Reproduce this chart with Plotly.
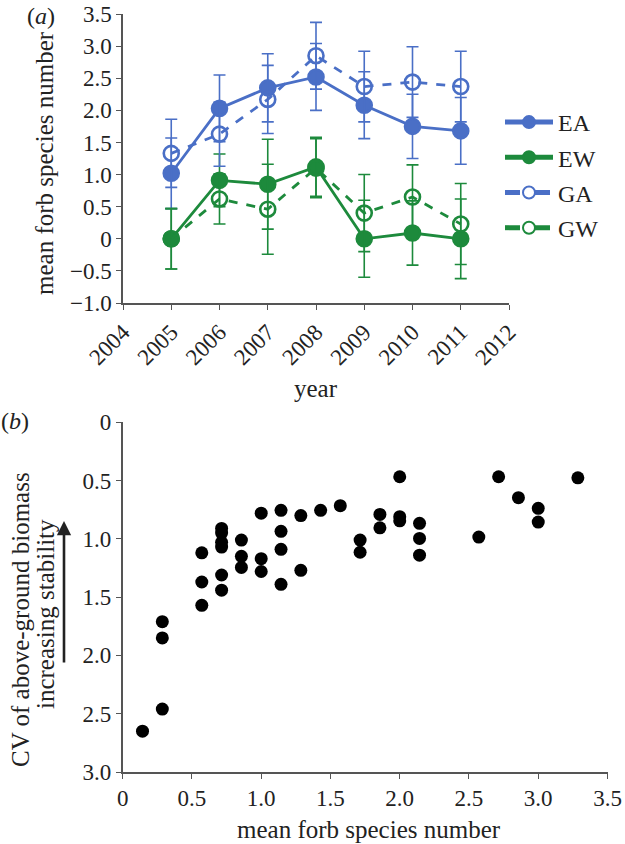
import plotly.graph_objects as go

# ---------------- data: panel (a) ----------------
years = [2005, 2006, 2007, 2008, 2009, 2010, 2011]
EA = [1.02, 2.03, 2.35, 2.52, 2.08, 1.75, 1.68]
EA_err = [0.55, 0.52, 0.53, 0.52, 0.52, 0.50, 0.52]
EW = [0.0, 0.91, 0.85, 1.12, 0.0, 0.09, 0.0]
EW_err = [0.47, 0.41, 0.70, 0.46, 0.60, 0.50, 0.62]
GA = [1.33, 1.63, 2.17, 2.85, 2.37, 2.44, 2.37]
GA_err = [0.53, 0.50, 0.53, 0.52, 0.55, 0.55, 0.55]
GW = [0.0, 0.62, 0.46, 1.10, 0.40, 0.65, 0.23]
GW_err = [0.47, 0.39, 0.70, 0.46, 0.60, 0.50, 0.63]

a_xticks = [2004, 2005, 2006, 2007, 2008, 2009, 2010, 2011, 2012]
a_yticks = [-1.0, -0.5, 0, 0.5, 1.0, 1.5, 2.0, 2.5, 3.0, 3.5]
a_ytext = ["\u22121.0", "\u22120.5", "0", "0.5", "1.0", "1.5", "2.0", "2.5", "3.0", "3.5"]

# ---------------- data: panel (b) ----------------
forb_mean = [0.143, 0.286, 0.286, 0.286,
             0.571, 0.571, 0.571,
             0.714, 0.714, 0.714, 0.714, 0.714, 0.714,
             0.857, 0.857, 0.857,
             1.0, 1.0, 1.0,
             1.143, 1.143, 1.143, 1.143,
             1.286, 1.286, 1.429, 1.571,
             1.714, 1.714, 1.857, 1.857,
             2.0, 2.0, 2.0,
             2.143, 2.143, 2.143,
             2.571, 2.714, 2.857, 3.0, 3.0, 3.286]
cv_biomass = [2.65, 2.46, 1.85, 1.71,
              1.57, 1.37, 1.12,
              1.44, 1.31, 1.07, 1.03, 0.95, 0.91,
              1.01, 1.15, 1.245,
              0.78, 1.17, 1.28,
              0.755, 0.935, 1.09, 1.39,
              0.80, 1.27, 0.755, 0.715,
              1.01, 1.115, 0.79, 0.905,
              0.467, 0.81, 0.845,
              0.867, 0.996, 1.14,
              0.985, 0.467, 0.647, 0.738, 0.856, 0.476]

b_xticks = [0, 0.5, 1.0, 1.5, 2.0, 2.5, 3.0, 3.5]
b_xtext = ["0", "0.5", "1.0", "1.5", "2.0", "2.5", "3.0", "3.5"]
b_yticks = [0, 0.5, 1.0, 1.5, 2.0, 2.5, 3.0]
b_ytext = ["0", "0.5", "1.0", "1.5", "2.0", "2.5", "3.0"]

BLUE = "#4a6fc6"
GREEN = "#1d8a3c"
FONT = "Liberation Serif"
W, H = 625, 844


def fx(x):
    return x / W


def fy(y):
    return 1 - y / H


fig = go.Figure()


def add_series(name, y, err, color, dash, filled):
    fig.add_trace(go.Scatter(
        x=years, y=y, name=name, mode="lines+markers",
        line=dict(color=color, width=2.8, dash=dash),
        marker=dict(symbol="circle" if filled else "circle-open",
                    size=15, color=color,
                    line=dict(color=color, width=2.6)),
        error_y=dict(type="data", array=err, visible=True,
                     color=color, thickness=1.6, width=6),
        legendgroup=name,
        xaxis="x", yaxis="y",
    ))


add_series("EA", EA, EA_err, BLUE, "solid", True)
add_series("EW", EW, EW_err, GREEN, "solid", True)
add_series("GA", GA, GA_err, BLUE, "dash", False)
add_series("GW", GW, GW_err, GREEN, "dash", False)

fig.add_trace(go.Scatter(
    x=forb_mean, y=cv_biomass, mode="markers", showlegend=False,
    marker=dict(color="black", size=13),
    xaxis="x2", yaxis="y2",
))

axis_common = dict(showline=True, linecolor="#555555", linewidth=1.5,
                   ticks="outside", ticklen=5, tickwidth=1.3, tickcolor="#555555",
                   showgrid=False, zeroline=False, automargin=False,
                   tickfont=dict(family=FONT, size=23, color="#222222"))

fig.update_layout(
    template="none",
    width=W, height=H,
    margin=dict(l=0, r=0, t=0, b=0, pad=0, autoexpand=False),
    paper_bgcolor="white", plot_bgcolor="white",
    font=dict(family=FONT, color="#222222"),
    xaxis=dict(domain=[fx(123), fx(509)], range=[2004, 2012],
               tickvals=a_xticks, ticktext=[str(v) for v in a_xticks],
               tickangle=-45, anchor="y", **axis_common),
    yaxis=dict(domain=[fy(303), fy(14)], range=[-1.0, 3.5],
               tickvals=a_yticks, ticktext=a_ytext, anchor="x", **axis_common),
    xaxis2=dict(domain=[fx(122.7), fx(607.5)], range=[0, 3.5],
                tickvals=b_xticks, ticktext=b_xtext, anchor="y2", **axis_common),
    yaxis2=dict(domain=[fy(772), fy(422.3)], range=[3.0, 0],
                tickvals=b_yticks, ticktext=b_ytext, anchor="x2", **axis_common),
    legend=dict(x=fx(500), y=fy(175), xanchor="left", yanchor="middle",
                font=dict(family=FONT, size=24, color="#222222"),
                itemwidth=48, tracegroupgap=1, bgcolor="rgba(0,0,0,0)",
                borderwidth=0, itemsizing="constant"),
    showlegend=True,
)

annots = []


def text(t, x, y, size, angle=0):
    annots.append(dict(text=t, x=fx(x), y=fy(y), xref="paper", yref="paper",
                       showarrow=False, textangle=angle,
                       xanchor="center", yanchor="middle",
                       font=dict(family=FONT, size=size, color="#222222")))


text("(<i>a</i>)", 41, 16, 24)
text("(<i>b</i>)", 15, 421, 24)
text("mean forb species number", 45, 163, 25, -90)
text("year", 316, 388, 25)
text("CV of above-ground biomass", 20, 620, 25, -90)
text("increasing stability", 45, 614, 25, -90)
text("mean forb species number", 369, 829, 25)

annots.append(dict(x=fx(64), y=fy(521), ax=0, ay=143, xref="paper", yref="paper",
                   axref="pixel", ayref="pixel", text="", showarrow=True,
                   arrowhead=2, arrowsize=1.1, arrowwidth=2.6, arrowcolor="#222222"))

fig.update_layout(annotations=annots)

# place the figure at the very top-left of the page (no default body margin)
fig.write_html("out.html",
               config={"displayModeBar": False},
               post_script="document.body.style.margin='0';document.body.style.overflow='hidden';")
